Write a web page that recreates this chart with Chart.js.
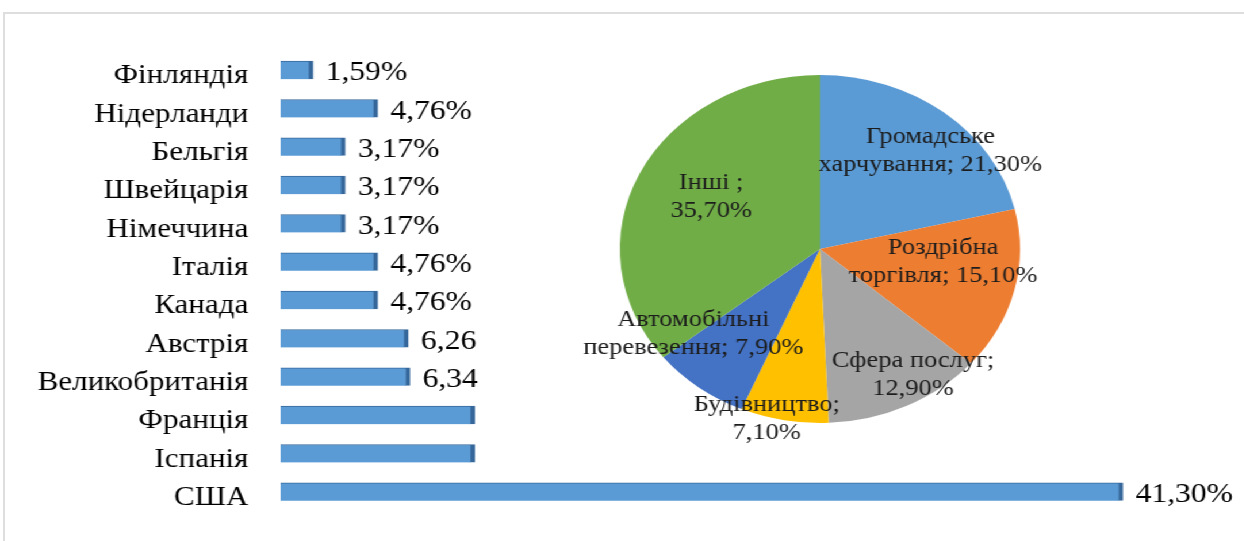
<!DOCTYPE html>
<html lang="uk">
<head>
    <meta charset="UTF-8">
    <title>Країни та галузі</title>
    <script src="https://cdn.jsdelivr.net/npm/chart.js"></script>
    <style>
        html, body {
            margin: 0;
            padding: 0;
            background: #fff;
            overflow: hidden;
        }
        #frame {
            position: absolute;
            left: 3px;
            top: 12px;
            width: 1300px;
            height: 540px;
            border-top: 2px solid #dedede;
            border-left: 2px solid #dedede;
        }
        /* whole figure is drawn narrower and stretched sideways */
        #stage {
            position: absolute;
            left: 0;
            top: 0;
            width: 1082px;
            height: 541px;
            transform: scaleX(1.15);
            transform-origin: 0 0;
        }
        #barBox {
            position: absolute;
            left: 0;
            top: 0;
            width: 1082px;
            height: 541px;
        }
        #pieBox {
            position: absolute;
            left: 453px;
            top: 49px;
            width: 520px;
            height: 400px;
        }
    </style>
</head>
<body>
    <div id="frame"></div>
    <div id="stage">
        <div id="barBox"><canvas id="barChart"></canvas></div>
        <div id="pieBox"><canvas id="pieChart"></canvas></div>
    </div>

    <script>
        // countries, share in %
        const countries = ['Фінляндія', 'Нідерланди', 'Бельгія', 'Швейцарія', 'Німеччина', 'Італія',
            'Канада', 'Австрія', 'Великобританія', 'Франція', 'Іспанія', 'США'];
        const countryShare = [1.59, 4.76, 3.17, 3.17, 3.17, 4.76, 4.76, 6.26, 6.34, 9.52, 9.52, 41.30];
        // suffix after the number; null = bar has no label
        const countryUnit = ['%', '%', '%', '%', '%', '%', '%', '', '', null, null, '%'];

        // industries, share in %
        const sectors = [
            ['Громадське', 'харчування; '],
            ['Роздрібна', 'торгівля; '],
            ['Сфера послуг;', ''],
            ['Будівництво;', ''],
            ['Автомобільні', 'перевезення; '],
            ['Інші ;', '']
        ];
        const sectorShare = [21.30, 15.10, 12.90, 7.10, 7.90, 35.70];
        const sectorColors = ['#5b9bd5', '#ed7d31', '#a5a5a5', '#ffc000', '#4472c4', '#70ad47'];

        const serif = '"Liberation Serif", "Times New Roman", serif';
        const fmt = v => v.toFixed(2).replace('.', ',');

        const barValueLabels = {
            id: 'barValueLabels',
            afterDatasetsDraw(chart) {
                const ctx = chart.ctx;
                const meta = chart.getDatasetMeta(0);
                ctx.save();
                ctx.font = '27.5px ' + serif;
                ctx.fillStyle = '#000';
                ctx.textAlign = 'left';
                ctx.textBaseline = 'middle';
                meta.data.forEach((bar, i) => {
                    const unit = countryUnit[i];
                    if (unit === null) return;
                    ctx.fillText(fmt(countryShare[i]) + unit, bar.x + 11, bar.y + 3);
                });
                ctx.restore();
            }
        };

        new Chart(document.getElementById('barChart'), {
            type: 'bar',
            data: {
                labels: countries,
                datasets: [{
                    data: countryShare,
                    backgroundColor: '#5b9bd5',
                    borderColor: '#35679a',
                    borderWidth: { top: 1, right: 4, bottom: 0, left: 0 },
                    borderSkipped: false,
                    barThickness: 18
                }]
            },
            options: {
                indexAxis: 'y',
                responsive: true,
                maintainAspectRatio: false,
                animation: false,
                layout: { padding: { top: 51, bottom: 30, left: 0, right: 40 } },
                plugins: {
                    legend: { display: false },
                    tooltip: { enabled: false }
                },
                scales: {
                    x: { display: false, min: 0, max: 45 },
                    y: {
                        grid: { display: false },
                        border: { display: false },
                        afterFit(scale) {
                            scale.width = 244;
                            // rows are spaced by layout padding only
                            scale.paddingTop = 0;
                            scale.paddingBottom = 0;
                        },
                        ticks: {
                            padding: 20,
                            labelOffset: 6,
                            color: '#000',
                            font: { family: serif, size: 27 }
                        }
                    }
                }
            },
            plugins: [barValueLabels]
        });

        // label placement inside the pie: radius fraction and angle shift (deg)
        const pieLabelPos = [
            { r: 0.79, da: 6 },
            { r: 0.62, da: -7 },
            { r: 0.86, da: -7 },
            { r: 1.01, da: 5 },
            { r: 0.80, da: 15 },
            { r: 0.62, da: 3 }
        ];

        const pieLabels = {
            id: 'pieLabels',
            afterDatasetsDraw(chart) {
                const ctx = chart.ctx;
                const meta = chart.getDatasetMeta(0);
                ctx.save();
                ctx.font = '23px ' + serif;
                ctx.fillStyle = '#1c1c1c';
                ctx.textAlign = 'center';
                ctx.textBaseline = 'middle';
                meta.data.forEach((arc, i) => {
                    const p = pieLabelPos[i];
                    const a = (arc.startAngle + arc.endAngle) / 2 + p.da * Math.PI / 180;
                    const cx = arc.x + Math.cos(a) * arc.outerRadius * p.r;
                    const cy = arc.y + Math.sin(a) * arc.outerRadius * p.r;
                    const [first, pre] = sectors[i];
                    const value = fmt(sectorShare[i]) + '%';
                    ctx.fillText(first, cx, cy - 14);
                    ctx.fillText(pre + value, cx, cy + 14);
                });
                ctx.restore();
            }
        };

        new Chart(document.getElementById('pieChart'), {
            type: 'pie',
            data: {
                labels: sectors.map(s => s[0]),
                datasets: [{
                    data: sectorShare,
                    backgroundColor: sectorColors,
                    borderWidth: 0
                }]
            },
            options: {
                responsive: true,
                maintainAspectRatio: false,
                animation: false,
                layout: { padding: { top: 26, bottom: 26, left: 86, right: 86 } },
                plugins: {
                    legend: { display: false },
                    tooltip: { enabled: false }
                }
            },
            plugins: [pieLabels]
        });
    </script>
</body>
</html>
